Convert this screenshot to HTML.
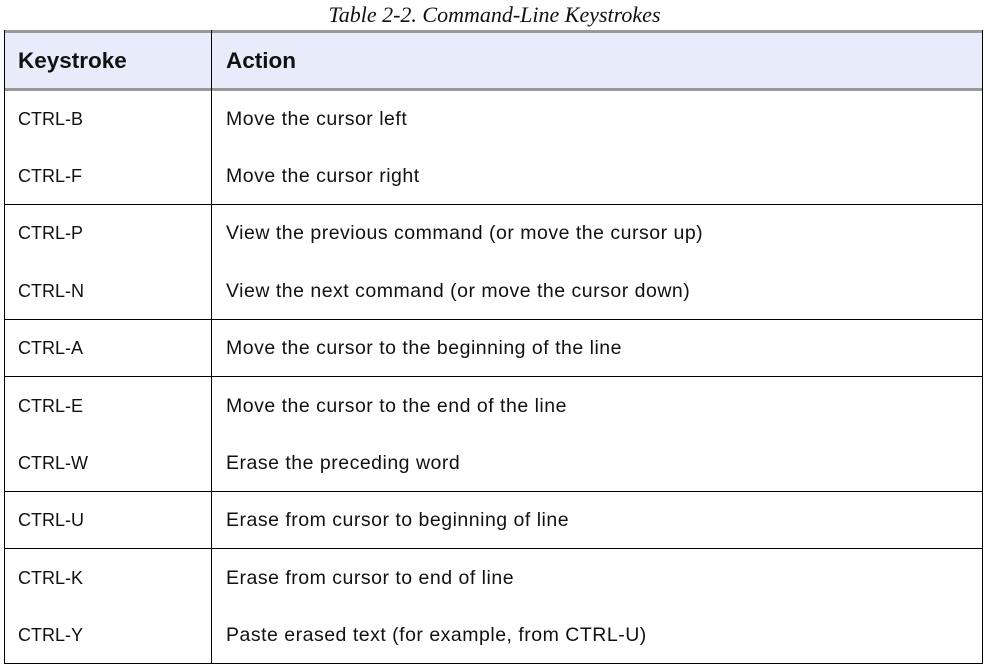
<!DOCTYPE html>
<html><head><style>
body{margin:0;width:989px;height:668px;background:#fff;position:relative;overflow:hidden;font-family:"Liberation Sans",sans-serif;}
.a{position:absolute;white-space:nowrap;}
.t{font-size:19.5px;letter-spacing:0.5px;color:#111;line-height:20px;}
.k{font-size:18px;letter-spacing:0;}
</style></head><body>
<div class="a" style="left:0;width:989px;text-align:center;top:4px;font-family:'Liberation Serif',serif;font-style:italic;font-size:22px;line-height:22px;color:#111">Table 2-2. Command-Line Keystrokes</div>
<div class="a" style="left:4px;top:30px;width:979px;height:60px;background:#e8ecfa"></div>
<div class="a" style="left:4px;top:30px;width:979px;height:3px;background:#999"></div>
<div class="a" style="left:4px;top:88px;width:979px;height:3px;background:#999"></div>
<div class="a" style="left:4px;top:30px;width:1px;height:634px;background:#000"></div>
<div class="a" style="left:982px;top:30px;width:1px;height:634px;background:#000"></div>
<div class="a" style="left:211px;top:30px;width:1px;height:634px;background:#000"></div>
<div class="a" style="left:4px;top:663px;width:979px;height:1px;background:#000"></div>
<div class="a" style="left:4px;top:204px;width:979px;height:1px;background:#000"></div>
<div class="a" style="left:4px;top:319px;width:979px;height:1px;background:#000"></div>
<div class="a" style="left:4px;top:376px;width:979px;height:1px;background:#000"></div>
<div class="a" style="left:4px;top:491px;width:979px;height:1px;background:#000"></div>
<div class="a" style="left:4px;top:548px;width:979px;height:1px;background:#000"></div>
<div class="a" style="left:18px;top:49px;font-weight:bold;font-size:22.5px;line-height:24px;color:#111">Keystroke</div>
<div class="a" style="left:226px;top:49px;font-weight:bold;font-size:22.5px;line-height:24px;color:#111">Action</div>
<div class="a t k" style="left:18px;top:109px">CTRL-B</div><div class="a t" style="left:226px;top:109px">Move the cursor left</div>
<div class="a t k" style="left:18px;top:166px">CTRL-F</div><div class="a t" style="left:226px;top:166px">Move the cursor right</div>
<div class="a t k" style="left:18px;top:223px">CTRL-P</div><div class="a t" style="left:226px;top:223px">View the previous command (or move the cursor up)</div>
<div class="a t k" style="left:18px;top:281px">CTRL-N</div><div class="a t" style="left:226px;top:281px">View the next command (or move the cursor down)</div>
<div class="a t k" style="left:18px;top:338px">CTRL-A</div><div class="a t" style="left:226px;top:338px">Move the cursor to the beginning of the line</div>
<div class="a t k" style="left:18px;top:396px">CTRL-E</div><div class="a t" style="left:226px;top:396px">Move the cursor to the end of the line</div>
<div class="a t k" style="left:18px;top:453px">CTRL-W</div><div class="a t" style="left:226px;top:453px">Erase the preceding word</div>
<div class="a t k" style="left:18px;top:510px">CTRL-U</div><div class="a t" style="left:226px;top:510px">Erase from cursor to beginning of line</div>
<div class="a t k" style="left:18px;top:568px">CTRL-K</div><div class="a t" style="left:226px;top:568px">Erase from cursor to end of line</div>
<div class="a t k" style="left:18px;top:625px">CTRL-Y</div><div class="a t" style="left:226px;top:625px">Paste erased text (for example, from CTRL-U)</div>
</body></html>
